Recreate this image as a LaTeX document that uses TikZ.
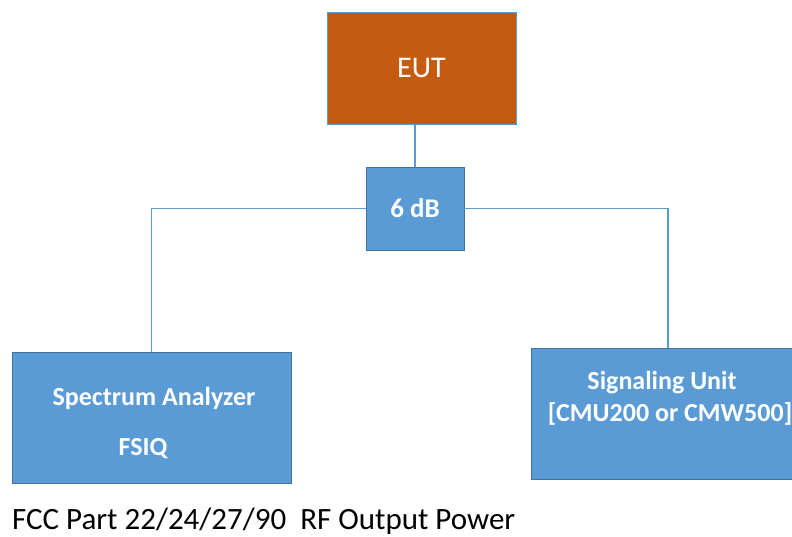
\documentclass[tikz,border=0pt]{standalone}
\usepackage{fontspec}
\setmainfont{Carlito}
\usetikzlibrary{positioning}
\definecolor{eutorange}{HTML}{C55A11}
\definecolor{boxblue}{HTML}{5B9BD5}
\definecolor{edgeblue}{HTML}{41719C}
\tikzset{
    box/.style={draw=edgeblue,line width=0.8pt,fill=boxblue,minimum width=#1,inner sep=0pt},
    boxtext/.style={text=white,font=\fontsize{26}{30}\selectfont\bfseries,inner sep=0pt},
    link/.style={draw=boxblue,line width=1.8pt}
}
\begin{document}
\begin{tikzpicture}[x=1pt,y=-1pt]
    % page size of the reference
    \useasboundingbox (0,0) rectangle (792,537);
    \clip (0,0) rectangle (792,537);
    % draw the boxes
    \node[box=189pt,minimum height=112pt,fill=eutorange,draw=boxblue] (eut) at (421.5,68) {};
    \node[box=98pt,minimum height=83pt] (att) at (415,208.5) {};
    \node[box=279pt,minimum height=131pt] (sa) at (151.5,417.5) {};
    \node[box=274pt,minimum height=131pt] (su) at (668,413.5) {};
    % connect them
    \draw[link] (att) -- (att |- eut.south);
    \draw[link] (att.west) -| (sa);
    \draw[link] (att.east) -| (su);
    % add labels
    \node[boxtext,font=\fontsize{30}{33}\selectfont] (eutlabel) at (eut) {EUT};
    \node[boxtext,font=\fontsize{27}{30}\selectfont\bfseries] (attlabel) at (att) {6 dB};
    \node[boxtext] (satitle) at (154,398) {Spectrum Analyzer};
    \node[boxtext] (satype) at (143,449) {FSIQ};
    \node[boxtext] (sutitle) at (662,383) {Signaling Unit};
    \node[boxtext] (sutype) at (670,414) {[CMU200 or CMW500]};
    \node[anchor=west,inner sep=0pt,font=\fontsize{31}{34}\selectfont] (caption) at (12,521) {FCC Part 22/24/27/90~ RF Output Power};
\end{tikzpicture}
\end{document}
